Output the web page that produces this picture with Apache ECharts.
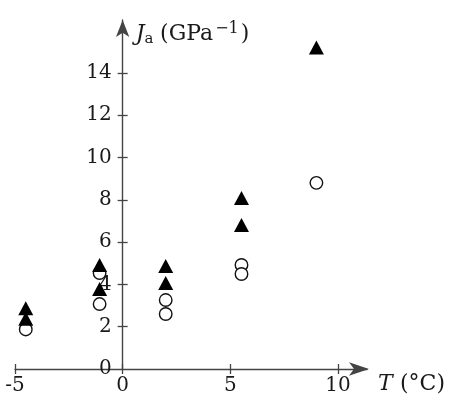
<!DOCTYPE html>
<html>
<head>
<meta charset="utf-8">
<script src="https://cdn.jsdelivr.net/npm/echarts@6/dist/echarts.min.js"></script>
<style>
  html, body { margin: 0; padding: 0; background: #fff; }
  #chart { width: 456px; height: 406px; }
</style>
</head>
<body>
<div id="chart"></div>
<script>
// open circles
const circleT = [-4.5, -1.07, -1.07, 2.0, 2.0, 5.52, 5.52, 9.0];
const circleJ = [1.87, 4.54, 3.07, 3.26, 2.6, 4.92, 4.49, 8.8];
// filled triangles
const triT = [-4.5, -4.5, -1.07, -1.07, 2.0, 2.0, 5.52, 5.52, 9.0];
const triJ = [2.87, 2.37, 4.92, 3.78, 4.87, 4.07, 8.09, 6.81, 15.2];

const xTicks = [-5, 0, 5, 10];
const yLabels = [0, 2, 4, 6, 8, 10, 12, 14];
const yTicks = [2, 4, 6, 8, 10, 12, 14];

const font = "DejaVu Serif";
const ink = "#1a1a1a";
const axisColor = "#444";

// grid geometry: T from -5 to 11.35 over 352px starting at x=15
const gridLeft = 15;
const gridWidth = 352;
const xMin = -5;
const xMax = 11.35;
const yAxisShift = -gridWidth * (0 - xMin) / (xMax - xMin); // put the J axis at T = 0

const zip = (xs, ys) => xs.map((x, i) => [x, ys[i]]);

const chart = echarts.init(document.getElementById("chart"));
chart.setOption({
	animation: false,
	grid: { left: gridLeft, right: 456 - gridLeft - gridWidth, top: 20, bottom: 37, containLabel: false, outerBoundsMode: "none" },
	xAxis: [
		{
			type: "value",
			min: xMin,
			max: xMax,
			interval: 5,
			name: "{i|T} {n|(°C)}",
			nameLocation: "end",
			nameGap: 11,
			nameTextStyle: {
				verticalAlign: "top",
				padding: [4, 0, 0, 0],
				rich: {
					i: { fontFamily: font, fontStyle: "italic", fontSize: 22, color: ink },
					n: { fontFamily: font, fontSize: 22, color: ink, padding: [0, 0, 0, 4] },
				},
			},
			axisLine: {
				onZero: false,
				symbol: ["none", "arrow"],
				symbolSize: [10, 20],
				symbolOffset: [0, 2],
				lineStyle: { color: axisColor, width: 1.4 },
			},
			axisTick: { show: true, length: 5, lineStyle: { color: axisColor, width: 1.3 }, customValues: xTicks },
			axisLabel: { fontFamily: font, fontSize: 20, color: ink, margin: 7, customValues: xTicks },
			splitLine: { show: false },
		},
		{
			type: "value",
			min: xMin,
			max: xMax,
			position: "bottom",
			axisLine: { show: false },
			axisTick: { show: true, inside: true, length: 5, lineStyle: { color: axisColor, width: 1.3 }, customValues: xTicks },
			axisLabel: { show: false },
			splitLine: { show: false },
		},
	],
	yAxis: [
		{
			type: "value",
			min: 0,
			max: 16.5,
			position: "left",
			offset: yAxisShift,
			name: "{i|J}{s|a}  {n|(GPa}{p|−1}{n|)}",
			nameLocation: "end",
			nameGap: -14,
			nameTextStyle: {
				align: "left",
				verticalAlign: "middle",
				padding: [0, 0, 0, 13],
				rich: {
					i: { fontFamily: font, fontStyle: "italic", fontSize: 22, color: ink },
					s: { fontFamily: font, fontSize: 15, color: ink, padding: [10, 0, 0, 0] },
					n: { fontFamily: font, fontSize: 22, color: ink },
					p: { fontFamily: font, fontSize: 16, color: ink, padding: [0, 2, 10, 2] },
				},
			},
			axisLine: {
				show: true,
				onZero: false,
				symbol: ["none", "arrow"],
				symbolSize: [10, 17],
				lineStyle: { color: axisColor, width: 1.4 },
			},
			axisTick: { show: true, length: 5, lineStyle: { color: axisColor, width: 1.3 }, customValues: yTicks },
			axisLabel: { fontFamily: font, fontSize: 20, color: ink, margin: 11, customValues: yLabels },
			splitLine: { show: false },
		},
		{
			type: "value",
			min: 0,
			max: 16.5,
			position: "left",
			offset: yAxisShift,
			axisLine: { show: false, onZero: false },
			axisTick: { show: true, inside: true, length: 5, lineStyle: { color: axisColor, width: 1.3 }, customValues: yTicks },
			axisLabel: { show: false },
			splitLine: { show: false },
		},
	],
	series: [
		{
			name: "circles",
			type: "scatter",
			data: zip(circleT, circleJ),
			symbol: "circle",
			symbolSize: 12.5,
			itemStyle: { color: "#fff", borderColor: "#111", borderWidth: 1.4, opacity: 1 },
			z: 2,
		},
		{
			name: "triangles",
			type: "scatter",
			data: zip(triT, triJ),
			symbol: "triangle",
			symbolSize: [15, 14],
			itemStyle: { color: "#000", opacity: 1 },
			z: 3,
		},
	],
});
</script>
</body>
</html>
